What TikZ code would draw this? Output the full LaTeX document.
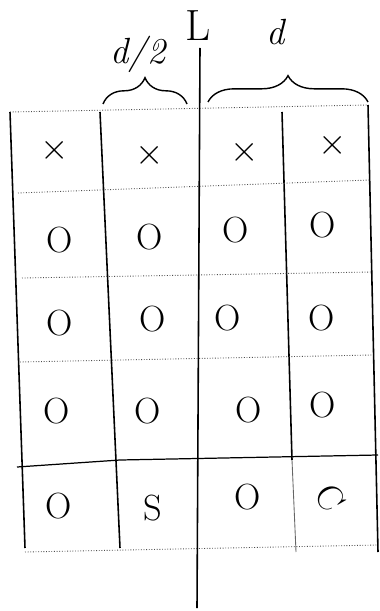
\documentclass[tikz,border=0pt]{standalone}
\usetikzlibrary{decorations.pathreplacing,positioning}
\tikzset{vline/.style={line width=0.9pt,black},
  hline/.style={line width=0.5pt,densely dotted,black!70},
  cellmark/.style={font=\huge,inner sep=1pt},
  brc/.style={decorate,decoration={brace,amplitude=15pt},line width=0.8pt},
  lbl/.style={font=\huge\itshape}}
\begin{document}
\begin{tikzpicture}[x=0.02cm,y=-0.02cm]
\useasboundingbox (0,0) rectangle (379,611);
% grid lines
\draw[vline] (10,112)--(25,548); \draw[vline] (100,112)--(120,548);
\draw[vline] (282,112)--(292,460); \draw[hline,solid,black!60] (292,460)--(296,552);
\draw[vline] (368,105)--(378,552);
\draw[hline] (10,112)--(368,105); \draw[hline] (18,193)--(370,180);
\draw[hline] (22,278)--(372,272); \draw[hline] (20,362)--(372,355);
\draw[vline,line width=0.7pt] (17,467)--(120,460)--(378,455);
\draw[hline] (25,552)--(378,545);
% divider L
\node[font=\Huge] (L) at (198,26){L};
\draw[vline] (200,48)--(197,608);
% braces
\draw[brc] (103,104)--(187,104) coordinate[pos=0.5] (bh);
\node[lbl] (dh) at (138,54){d/2};
\draw[brc] (208,102)--(368,102) coordinate[pos=0.5] (bd);
\node[lbl] (dd) at (276,32){d};
% cell marks
\node[cellmark] (c11) at (55,150){$\times$}; \node[cellmark] (c12) at (150,155){$\times$};
\node[cellmark] (c13) at (245,152){$\times$}; \node[cellmark] (c14) at (333,145){$\times$};
\node[cellmark] (c21) at (60,240){O}; \node[cellmark] (c22) at (150,237){O};
\node[cellmark] (c23) at (236,230){O}; \node[cellmark] (c24) at (323,225){O};
\node[cellmark] (c31) at (60,323){O}; \node[cellmark] (c32) at (153,319){O};
\node[cellmark] (c33) at (228,318){O}; \node[cellmark] (c34) at (322,318){O};
\node[cellmark] (c41) at (57,411){O}; \node[cellmark] (c42) at (148,411){O};
\node[cellmark] (c43) at (249,410){O}; \node[cellmark] (c44) at (323,405){O};
\node[cellmark] (c51) at (59,506){O}; \node[cellmark] (c52) at (153,508){S};
\node[cellmark] (c53) at (248,497){O}; \node[cellmark,rotate=-60] (c54) at (330,498){C};
\end{tikzpicture}
\end{document}
